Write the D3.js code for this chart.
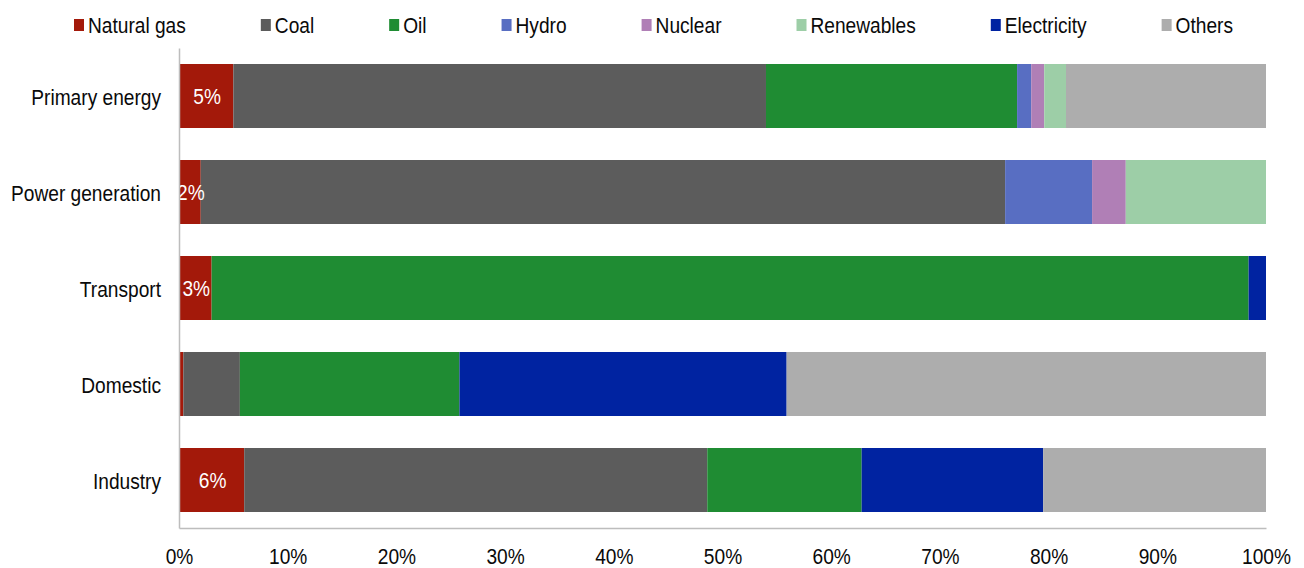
<!DOCTYPE html>
<html>
<head>
<meta charset="utf-8">
<script src="https://cdn.jsdelivr.net/npm/d3@7"></script>
<style>
  html, body { margin: 0; padding: 0; background: #fff; }
  svg { display: block; font-family: "Liberation Sans", Arial, sans-serif; }
</style>
</head>
<body>
<svg id="chart" width="1304" height="568"></svg>
<script>
// Sectors (rows) and the share of each energy source, in percent
const categories = ["Primary energy", "Power generation", "Transport", "Domestic", "Industry"];

const naturalGas  = [5,    2,    3,    0.4,  6];
const coal        = [49,   74,   0,    5.2,  42.6];
const oil         = [23.1, 0,    95.4, 20.2, 14.2];
const hydro       = [1.3,  8,    0,    0,    0];
const nuclear     = [1.2,  3.1,  0,    0,    0];
const renewables  = [2.0,  12.9, 0,    0,    0];
const electricity = [0,    0,    1.6,  30.1, 16.7];
const others      = [18.4, 0,    0,    44.1, 20.5];

const seriesNames = ["Natural gas", "Coal", "Oil", "Hydro", "Nuclear", "Renewables", "Electricity", "Others"];
const seriesValues = [naturalGas, coal, oil, hydro, nuclear, renewables, electricity, others];
const seriesColors = ["#a3190a", "#5c5c5c", "#1f8c33", "#586ec2", "#b07fb6", "#9dcea7", "#0023a1", "#adadad"];

const xTicks = [0, 0.1, 0.2, 0.3, 0.4, 0.5, 0.6, 0.7, 0.8, 0.9, 1.0];

// Build row objects for d3.stack
const rows = categories.map((c, i) => {
  const r = { category: c };
  seriesNames.forEach((s, j) => { r[s] = seriesValues[j][i] / 100; });
  return r;
});

const svg = d3.select("#chart");
const margin = { left: 179, right: 38, top: 48, bottom: 40 };
const W = 1304, H = 568;
const fontSize = "21.5px";
const squeeze = 0.89; // condensed lettering

const x = d3.scaleLinear().domain([0, 1]).range([margin.left, W - margin.right]);
const y = d3.scaleBand().domain(categories)
  .range([margin.top, H - margin.bottom])
  .paddingInner(1 / 3).paddingOuter(1 / 6);
const color = d3.scaleOrdinal().domain(seriesNames).range(seriesColors);

const stack = d3.stack().keys(seriesNames);
const layers = stack(rows);

// Bars
const gBars = svg.append("g");
gBars.selectAll("g.layer")
  .data(layers)
  .join("g")
  .attr("class", "layer")
  .attr("fill", d => color(d.key))
  .selectAll("rect")
  .data(d => d.map(p => ({ p, key: d.key })))
  .join("rect")
  .attr("x", d => x(d.p[0]))
  .attr("y", d => y(d.p.data.category))
  .attr("width", d => Math.max(0, x(d.p[1]) - x(d.p[0])))
  .attr("height", y.bandwidth());

// Value labels on the natural gas segments
const gasLayer = layers[0];
svg.append("g").selectAll("text")
  .data(gasLayer.filter(p => p.data["Natural gas"] >= 0.01))
  .join("text")
  .attr("transform", p => `translate(${(x(p[0]) + x(p[1])) / 2 + 1},${y(p.data.category) + y.bandwidth() / 2 + 8}) scale(${squeeze},1)`)
  .attr("text-anchor", "middle")
  .attr("fill", "#fff")
  .attr("font-size", fontSize)
  .text(p => d3.format(".0f")(p.data["Natural gas"] * 100) + "%");

// X axis
const xAxis = svg.append("g")
  .attr("transform", `translate(0,${H - margin.bottom})`)
  .call(d3.axisBottom(x).tickValues(xTicks).tickFormat(d3.format(".0%")).tickSize(0).tickSizeOuter(0).tickPadding(20.5));
xAxis.select(".domain").attr("stroke", "#bdbdbd").attr("stroke-width", 1.5);
xAxis.selectAll("text")
  .attr("font-size", fontSize)
  .attr("fill", "#0a0a0a")
  .attr("font-family", "Liberation Sans, Arial, sans-serif")
  .attr("transform", `scale(${squeeze},1)`);

// Y axis
const yAxis = svg.append("g")
  .attr("transform", `translate(${margin.left},0)`)
  .call(d3.axisLeft(y).tickSize(0).tickSizeOuter(0).tickPadding(0));
yAxis.select(".domain").attr("stroke", "#bdbdbd").attr("stroke-width", 1.5);
yAxis.selectAll("text")
  .attr("x", 0).attr("dy", null).attr("y", 8.5)
  .attr("font-size", fontSize)
  .attr("fill", "#0a0a0a")
  .attr("font-family", "Liberation Sans, Arial, sans-serif")
  .attr("transform", `translate(-18,0) scale(${squeeze},1)`);

// Legend across the top
const legend = svg.append("g");
let lx = 74;
seriesNames.forEach((name, i) => {
  const item = legend.append("g").attr("transform", `translate(${lx},0)`);
  item.append("rect")
    .attr("x", 0).attr("y", 19).attr("width", 10).attr("height", 12)
    .attr("fill", seriesColors[i]);
  const t = item.append("text")
    .attr("transform", `translate(14,33) scale(${squeeze},1)`)
    .attr("font-size", fontSize)
    .attr("fill", "#0a0a0a")
    .text(name);
  const w = t.node().getComputedTextLength() * squeeze;
  lx += 14 + w + 75;
});
</script>
</body>
</html>
